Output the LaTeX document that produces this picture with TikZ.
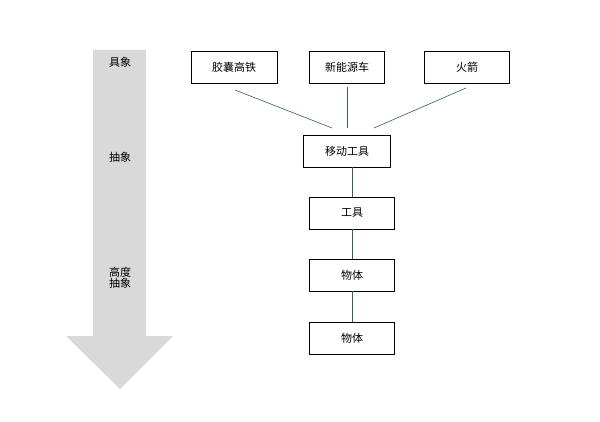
\documentclass[tikz,border=0pt]{standalone}
\usepackage{fontspec}
\setmainfont{Noto Sans CJK SC}
\usetikzlibrary{positioning}
\definecolor{linecol}{HTML}{2F5C6E}
\definecolor{arrowgray}{HTML}{D9D9D9}
\begin{document}
\begin{tikzpicture}[x=1pt,y=-1pt,font=\fontsize{11}{13}\selectfont,
	box/.style={draw=black,thick,minimum height=32pt,inner sep=0pt},
	link/.style={draw=linecol,semithick}]
	\useasboundingbox (0,0) rectangle (600,422);
	%big arrow
	\fill[arrowgray] (93,50) -- (146,50) -- (146,336) -- (173,336) -- (120,389) -- (66,336) -- (93,336) -- cycle;
	\node (concrete) at (120,62) {具象};
	\node (abstract) at (120,157) {抽象};
	\node[align=center] (highabs) at (120,278) {高度\\[-2pt]抽象};

	%boxes
	\node[box,minimum width=86pt] (train) at (234,67) {胶囊高铁};
	\node[box,minimum width=75pt] (car) at (347,67) {新能源车};
	\node[box,minimum width=85pt] (rocket) at (467,67) {火箭};
	\node[box,minimum width=87pt] (move) at (347,151) {移动工具};
	\node[box,minimum width=85pt] (tool) at (352,213) {工具};
	\node[box,minimum width=85pt] (obj1) at (352,275) {物体};
	\node[box,minimum width=85pt] (obj2) at (352,338) {物体};

	%connectors
	\coordinate (t1) at (235,90);
	\coordinate (t2) at (347,87);
	\coordinate (t3) at (466,88);
	\coordinate (m1) at (332,128);
	\coordinate (m2) at (347,128);
	\coordinate (m3) at (374,128);
	\draw[link] (t1) -- (m1);
	\draw[link] (t2) -- (m2);
	\draw[link] (t3) -- (m3);
	\draw[link] (move.south -| tool.north) -- (tool.north);
	\draw[link] (tool) -- (obj1);
	\draw[link] (obj1) -- (obj2);
\end{tikzpicture}
\end{document}
